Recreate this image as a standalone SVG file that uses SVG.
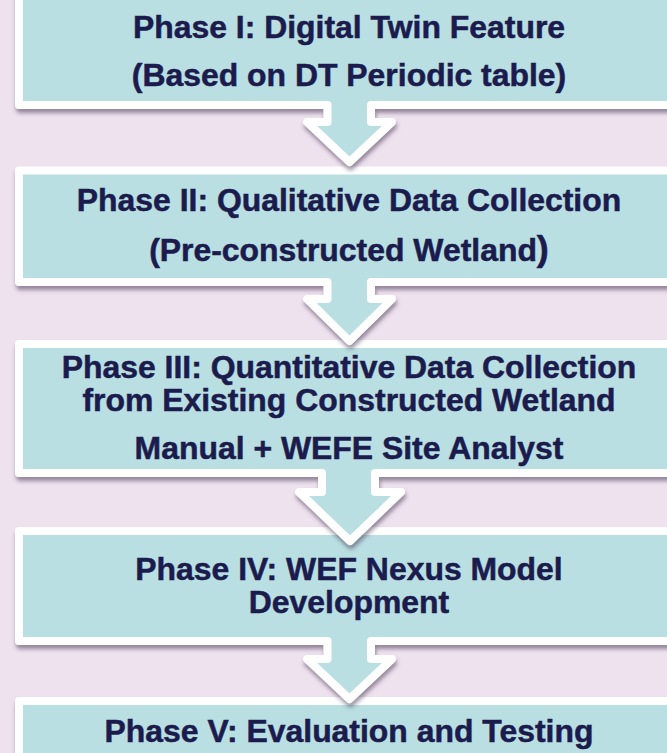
<svg xmlns="http://www.w3.org/2000/svg" width="667" height="753" viewBox="0 0 667 753">
  <defs>
    <filter id="sh" x="-10%" y="-10%" width="130%" height="130%">
      <feDropShadow dx="1" dy="4" stdDeviation="2.2" flood-color="#4a3a55" flood-opacity="0.55"/>
    </filter>
    <style>
      .box { fill: #b9dfe2; stroke: #ffffff; stroke-width: 8; stroke-linejoin: round; filter: url(#sh); }
      .t { font-family: "Liberation Sans", Arial, sans-serif; font-weight: bold; font-size: 31px; fill: #1b1b4d; stroke: #1b1b4d; stroke-width: 0.5; text-anchor: middle; }
    </style>
  </defs>
  <rect x="0" y="0" width="667" height="753" fill="#efe2ef"/>

  <g id="connectors"/>

  <g id="phase5">
    <path class="box" d="M19,701 H700 V790 H19 Z"/>
    <g transform="translate(349,0) scale(1.03,1)">
      <text class="t" x="0" y="742">Phase V: Evaluation and Testing</text>
    </g>
  </g>

  <g id="phase4">
    <path class="box" d="M19,531 H700 V641 H371 V659 H392 L349.5,699 L307,659 H327.5 V641 H19 Z"/>
    <g transform="translate(349,0) scale(1.03,1)">
      <text class="t" x="0" y="580">Phase IV: WEF Nexus Model</text>
      <text class="t" x="0" y="613">Development</text>
    </g>
  </g>

  <g id="phase3">
    <path class="box" d="M19,344 H700 V473 H375 V492 H401 L350,541 L299,492 H322 V473 H19 Z"/>
    <g transform="translate(349,0) scale(1.03,1)">
      <text class="t" x="0" y="378">Phase III: Quantitative Data Collection</text>
      <text class="t" x="0" y="411">from Existing Constructed Wetland</text>
      <text class="t" x="0" y="459">Manual + WEFE Site Analyst</text>
    </g>
  </g>

  <g id="phase2">
    <path class="box" d="M19,170.5 H700 V282 H371 V299 H392 L349.5,341 L307,299 H327.5 V282 H19 Z"/>
    <g transform="translate(349,0) scale(1.03,1)">
      <text class="t" x="0" y="211">Phase II: Qualitative Data Collection</text>
      <text class="t" x="0" y="261">(Pre-constructed Wetland<tspan font-size="35">)</tspan></text>
    </g>
  </g>

  <g id="phase1">
    <path class="box" d="M19,-20 H700 V105 H371 V122 H392 L349.5,162 L307,122 H327.5 V105 H19 Z"/>
    <g transform="translate(349,0) scale(1.03,1)">
      <text class="t" x="0" y="38">Phase I: Digital Twin Feature</text>
      <text class="t" x="0" y="86">(Based on DT Periodic table)</text>
    </g>
  </g>
</svg>
